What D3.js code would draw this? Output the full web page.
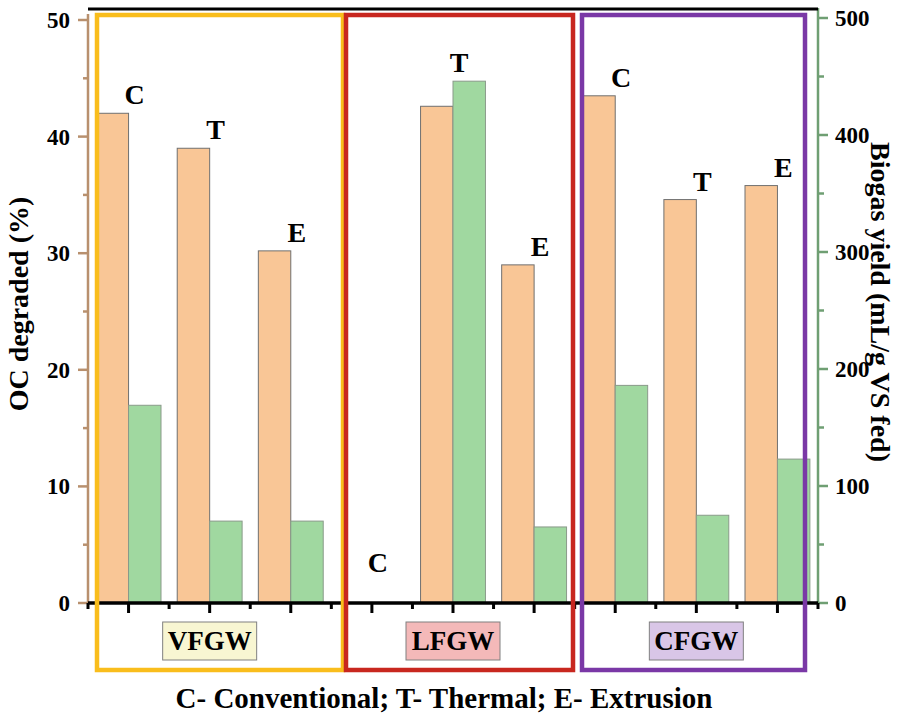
<!DOCTYPE html>
<html>
<head>
<meta charset="utf-8">
<script src="https://cdn.jsdelivr.net/npm/d3@7"></script>
<style>
  body { margin: 0; background: #fff; }
  svg { display: block; font-family: "Liberation Serif", "Times New Roman", serif; font-weight: bold; }
</style>
</head>
<body>
<div id="chart"></div>
<script>
// data
const groups = ["VFGW", "LFGW", "CFGW"]
const treatments = ["C", "T", "E"]
const ocDegraded = [42.0, 39.0, 30.2, 0, 42.6, 29.0, 43.5, 34.6, 35.8]   // %
const biogasYield = [169, 70, 70, 0, 446, 65, 186, 75, 123]             // mL/g VS fed
const leftTicks = [0, 10, 20, 30, 40, 50]
const rightTicks = [0, 100, 200, 300, 400, 500]

const groupColors = ["#f9bd1c", "#c8271f", "#7a38a6"]
const groupFills = ["#f8f6d2", "#f4b9b9", "#d9c6e7"]

const width = 914, height = 716
const xLeft = 88, xRight = 818, yTop = 9, yBottom = 603

const svg = d3.select("#chart").append("svg")
    .attr("width", width)
    .attr("height", height)

// one row per bar pair
const rows = []
groups.forEach((g, gi) => {
    treatments.forEach((t, ti) => {
        const i = gi * 3 + ti
        rows.push({ key: g + "-" + t, group: g, gi: gi, label: t, oc: ocDegraded[i], bio: biogasYield[i] })
    })
})

var x = d3.scaleBand()
    .domain(rows.map(d => d.key))
    .range([xLeft, xRight])
    .paddingInner(0.2)
    .paddingOuter(0.1)
var xSub = d3.scaleBand()
    .domain(["oc", "bio"])
    .range([0, x.bandwidth()])

var yL = d3.scaleLinear().domain([0, 50]).range([yBottom, 20])
var yR = d3.scaleLinear().domain([0, 500]).range([yBottom, 18])

const center = d => x(d.key) + x.bandwidth() / 2

// bars
svg.append("g").selectAll("rect")
    .data(rows.filter(d => d.oc > 0))
    .enter().append("rect")
    .attr("x", d => x(d.key) + xSub("oc"))
    .attr("y", d => yL(d.oc))
    .attr("width", xSub.bandwidth())
    .attr("height", d => yBottom - yL(d.oc))
    .attr("fill", "#f9c696")
    .attr("stroke", "#707070")
    .attr("stroke-width", 1)

svg.append("g").selectAll("rect")
    .data(rows.filter(d => d.bio > 0))
    .enter().append("rect")
    .attr("x", d => x(d.key) + xSub("bio"))
    .attr("y", d => yR(d.bio))
    .attr("width", xSub.bandwidth())
    .attr("height", d => yBottom - yR(d.bio))
    .attr("fill", "#a0d8a0")
    .attr("stroke", "#8a9a8a")
    .attr("stroke-width", 1)

// treatment letters above each pair
svg.append("g").selectAll("text")
    .data(rows)
    .enter().append("text")
    .attr("x", d => center(d) + 6)
    .attr("y", d => {
        const barTop = Math.min(yL(d.oc), yR(d.bio))
        return d.oc === 0 && d.bio === 0 ? yBottom - 31 : barTop - 9
    })
    .attr("text-anchor", "middle")
    .attr("font-size", 28)
    .text(d => d.label)

// left axis (OC degraded)
const leftAxis = svg.append("g")
    .attr("transform", "translate(" + xLeft + ",0)")
leftAxis.append("line")
    .attr("y1", 14).attr("y2", yBottom)
    .attr("stroke", "#b8906e").attr("stroke-width", 2.5)
leftAxis.selectAll(".minor")
    .data(d3.range(5, 50, 10))
    .enter().append("line")
    .attr("x1", -5).attr("x2", 0)
    .attr("y1", d => yL(d)).attr("y2", d => yL(d))
    .attr("stroke", "#b8906e").attr("stroke-width", 2.5)
leftAxis.selectAll(".major")
    .data(leftTicks)
    .enter().append("line")
    .attr("x1", -10).attr("x2", 0)
    .attr("y1", d => yL(d)).attr("y2", d => yL(d))
    .attr("stroke", "#b8906e").attr("stroke-width", 2.5)
leftAxis.selectAll("text")
    .data(leftTicks)
    .enter().append("text")
    .attr("x", -18)
    .attr("y", d => yL(d) + 8)
    .attr("text-anchor", "end")
    .attr("font-size", 23)
    .text(d => d)

// right axis (biogas yield)
const rightAxis = svg.append("g")
    .attr("transform", "translate(" + xRight + ",0)")
rightAxis.append("line")
    .attr("y1", yTop - 1).attr("y2", yBottom)
    .attr("stroke", "#6f9f73").attr("stroke-width", 2.5)
rightAxis.selectAll(".minor")
    .data(d3.range(50, 500, 100))
    .enter().append("line")
    .attr("x1", 0).attr("x2", 6)
    .attr("y1", d => yR(d)).attr("y2", d => yR(d))
    .attr("stroke", "#6f9f73").attr("stroke-width", 2.5)
rightAxis.selectAll(".major")
    .data(rightTicks)
    .enter().append("line")
    .attr("x1", 0).attr("x2", 10)
    .attr("y1", d => yR(d)).attr("y2", d => yR(d))
    .attr("stroke", "#6f9f73").attr("stroke-width", 2.5)
rightAxis.selectAll("text")
    .data(rightTicks)
    .enter().append("text")
    .attr("x", 17)
    .attr("y", d => yR(d) + 8)
    .attr("text-anchor", "start")
    .attr("font-size", 23)
    .text(d => d)

// top frame line
svg.append("line")
    .attr("x1", xLeft).attr("x2", xRight)
    .attr("y1", yTop).attr("y2", yTop)
    .attr("stroke", "#000").attr("stroke-width", 3)

// bottom axis: major ticks at pair centres, minor ticks between
const steps = d3.range(rows.length + 1).map(i => xLeft + i * x.step())
svg.append("g").selectAll("line")
    .data(steps)
    .enter().append("line")
    .attr("x1", d => d).attr("x2", d => d)
    .attr("y1", yBottom).attr("y2", yBottom + 6)
    .attr("stroke", "#000").attr("stroke-width", 3)
svg.append("g").selectAll("line")
    .data(rows)
    .enter().append("line")
    .attr("x1", center).attr("x2", center)
    .attr("y1", yBottom).attr("y2", yBottom + 10)
    .attr("stroke", "#000").attr("stroke-width", 3)
svg.append("line")
    .attr("x1", xLeft).attr("x2", xRight)
    .attr("y1", yBottom).attr("y2", yBottom)
    .attr("stroke", "#000").attr("stroke-width", 3.5)

// coloured group frames
const frames = [[97, 343], [346, 573], [582, 805]]
svg.append("g").selectAll("rect")
    .data(groups)
    .enter().append("rect")
    .attr("x", (d, i) => frames[i][0])
    .attr("y", 15)
    .attr("width", (d, i) => frames[i][1] - frames[i][0])
    .attr("height", 655)
    .attr("fill", "none")
    .attr("stroke", (d, i) => groupColors[i])
    .attr("stroke-width", 4.5)

// group name tags under the middle pair
const tags = svg.append("g").selectAll("g")
    .data(groups)
    .enter().append("g")
    .attr("transform", (d, i) => "translate(" + center(rows[i * 3 + 1]) + ",641)")
tags.append("rect")
    .attr("x", -47).attr("y", -19)
    .attr("width", 94).attr("height", 38)
    .attr("fill", (d, i) => groupFills[i])
    .attr("stroke", "#808080")
    .attr("stroke-width", 1)
tags.append("text")
    .attr("y", 9)
    .attr("text-anchor", "middle")
    .attr("font-size", 27)
    .text(d => d)

// axis titles
svg.append("text")
    .attr("transform", "translate(28,304) rotate(-90)")
    .attr("text-anchor", "middle")
    .attr("font-size", 28)
    .text("OC degraded (%)")
svg.append("text")
    .attr("transform", "translate(871,302) rotate(90)")
    .attr("text-anchor", "middle")
    .attr("font-size", 28)
    .text("Biogas yield (mL/g VS fed)")

svg.append("text")
    .attr("x", 444)
    .attr("y", 708)
    .attr("text-anchor", "middle")
    .attr("font-size", 29)
    .text("C- Conventional; T- Thermal; E- Extrusion")
</script>
</body>
</html>
